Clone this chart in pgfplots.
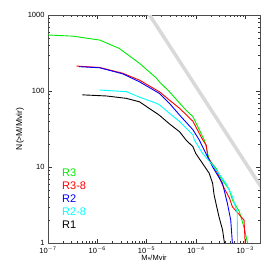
\documentclass[border=0pt]{standalone}
\usepackage{pgfplots}
\pgfplotsset{compat=1.18}
\usepackage{fontspec}
\setmainfont{Liberation Sans}
\definecolor{cR}{RGB}{255,0,0}
\definecolor{cG}{RGB}{0,235,0}
\definecolor{cB}{RGB}{0,0,255}
\definecolor{cC}{RGB}{0,255,255}
\definecolor{cGr}{RGB}{217,217,217}
\begin{document}
\begin{tikzpicture}
\useasboundingbox (-48pt,-31pt) rectangle (226pt,243pt);
\begin{axis}[
  at={(0,0)}, anchor=south west,
  scale only axis, width=212pt, height=228pt,
  xmode=log, ymode=log,
  xmin=1e-7, xmax=2e-3, ymin=1, ymax=1000,
  xtick={1e-7,1e-6,1e-5,1e-4,1e-3},
  xticklabels={10\textsuperscript{$-$7},10\textsuperscript{$-$6},10\textsuperscript{$-$5},10\textsuperscript{$-$4},10\textsuperscript{$-$3}},
  ytick={1,10,100,1000},
  yticklabels={1,10,100,1000},
  tick label style={font=\fontsize{7.5}{8}\selectfont},
  tick align=inside, major tick length=4pt, minor tick length=2pt,
  axis line style={black!70, line width=0.7pt},
  every tick/.style={black!80},
  xlabel={M\raisebox{-1.5pt}{*}/Mvir}, ylabel={N(>M/Mvir)},
  xlabel style={font=\fontsize{7.5}{8}\selectfont, yshift=5pt},
  ylabel style={font=\fontsize{8.5}{9}\selectfont, yshift=-3pt},
  clip=true,
]
\addplot[cGr, line width=3.5pt] coordinates {(1e-5,1150) (2.4e-3,4.8)};
\addplot[cG, line width=0.9pt] coordinates {
(1e-7,546) (3.2e-7,527) (1.12e-6,468) (2.8e-6,363) (7.2e-6,231) (1.58e-5,148)
(1.82e-5,132) (2.9e-5,98) (4.7e-5,69) (6.3e-5,56) (8.7e-5,46) (1.48e-4,22.7)
(1.62e-4,18.5) (1.86e-4,12.4) (2.57e-4,9.6) (3.24e-4,7.1) (4.8e-4,5.0)
(5.5e-4,3.7) (7.6e-4,2.6) (9.5e-4,1.6) (1.12e-3,1)};
\addplot[cR, line width=0.9pt] coordinates {
(3.8e-7,213) (1.12e-6,204) (3.3e-6,171) (7.2e-6,139) (1.58e-5,103) (1.82e-5,98)
(2.9e-5,76) (4.7e-5,59) (8.7e-5,40) (1.38e-4,22.7) (1.62e-4,19.5) (1.74e-4,13.7)
(2.75e-4,8.3) (3.47e-4,5.8) (4.8e-4,3.9) (5.5e-4,3.0) (9.5e-4,2.0) (1e-3,1)};
\addplot[cB, line width=0.9pt] coordinates {
(4.3e-7,209) (1.12e-6,202) (3.3e-6,168) (7.2e-6,132) (1.82e-5,93) (2.9e-5,69)
(4.7e-5,48) (8.7e-5,31) (1.17e-4,22.7) (1.48e-4,16.7) (2.19e-4,10) (3.47e-4,6.1)
(4.37e-4,3.3) (5.1e-4,2.0) (5.5e-4,1)};
\addplot[cC, line width=0.9pt] coordinates {
(1.12e-6,103) (3.9e-6,98) (7.2e-6,83) (1.58e-5,69) (1.82e-5,66) (2.9e-5,51)
(4.7e-5,39.6) (8.7e-5,26.4) (9.3e-5,22.7) (1.38e-4,15) (2.19e-4,10.6)
(4.07e-4,6.1) (5.5e-4,4.1) (6.9e-4,2.5) (7e-4,1)};
\addplot[black, line width=0.9pt] coordinates {
(5e-7,89) (1.55e-6,86) (3.9e-6,80) (7.2e-6,72) (1.82e-5,48) (2.9e-5,37)
(4.7e-5,29) (6.3e-5,22.7) (8.7e-5,18.5) (1e-4,15) (1.86e-4,8.3) (2.19e-4,6.1)
(2.34e-4,4.3) (2.95e-4,2.2) (3.47e-4,1.5) (3.8e-4,1)};
\end{axis}
\begin{scope}[font=\fontsize{11}{12}\selectfont, anchor=west, inner sep=0pt]
\node[cG] at (14pt,70pt) {R3};
\node[cR] at (14pt,57pt) {R3-8};
\node[cB] at (14pt,44pt) {R2};
\node[cC] at (14pt,31pt) {R2-8};
\node[black] at (14pt,18pt) {R1};
\end{scope}
\end{tikzpicture}
\end{document}
